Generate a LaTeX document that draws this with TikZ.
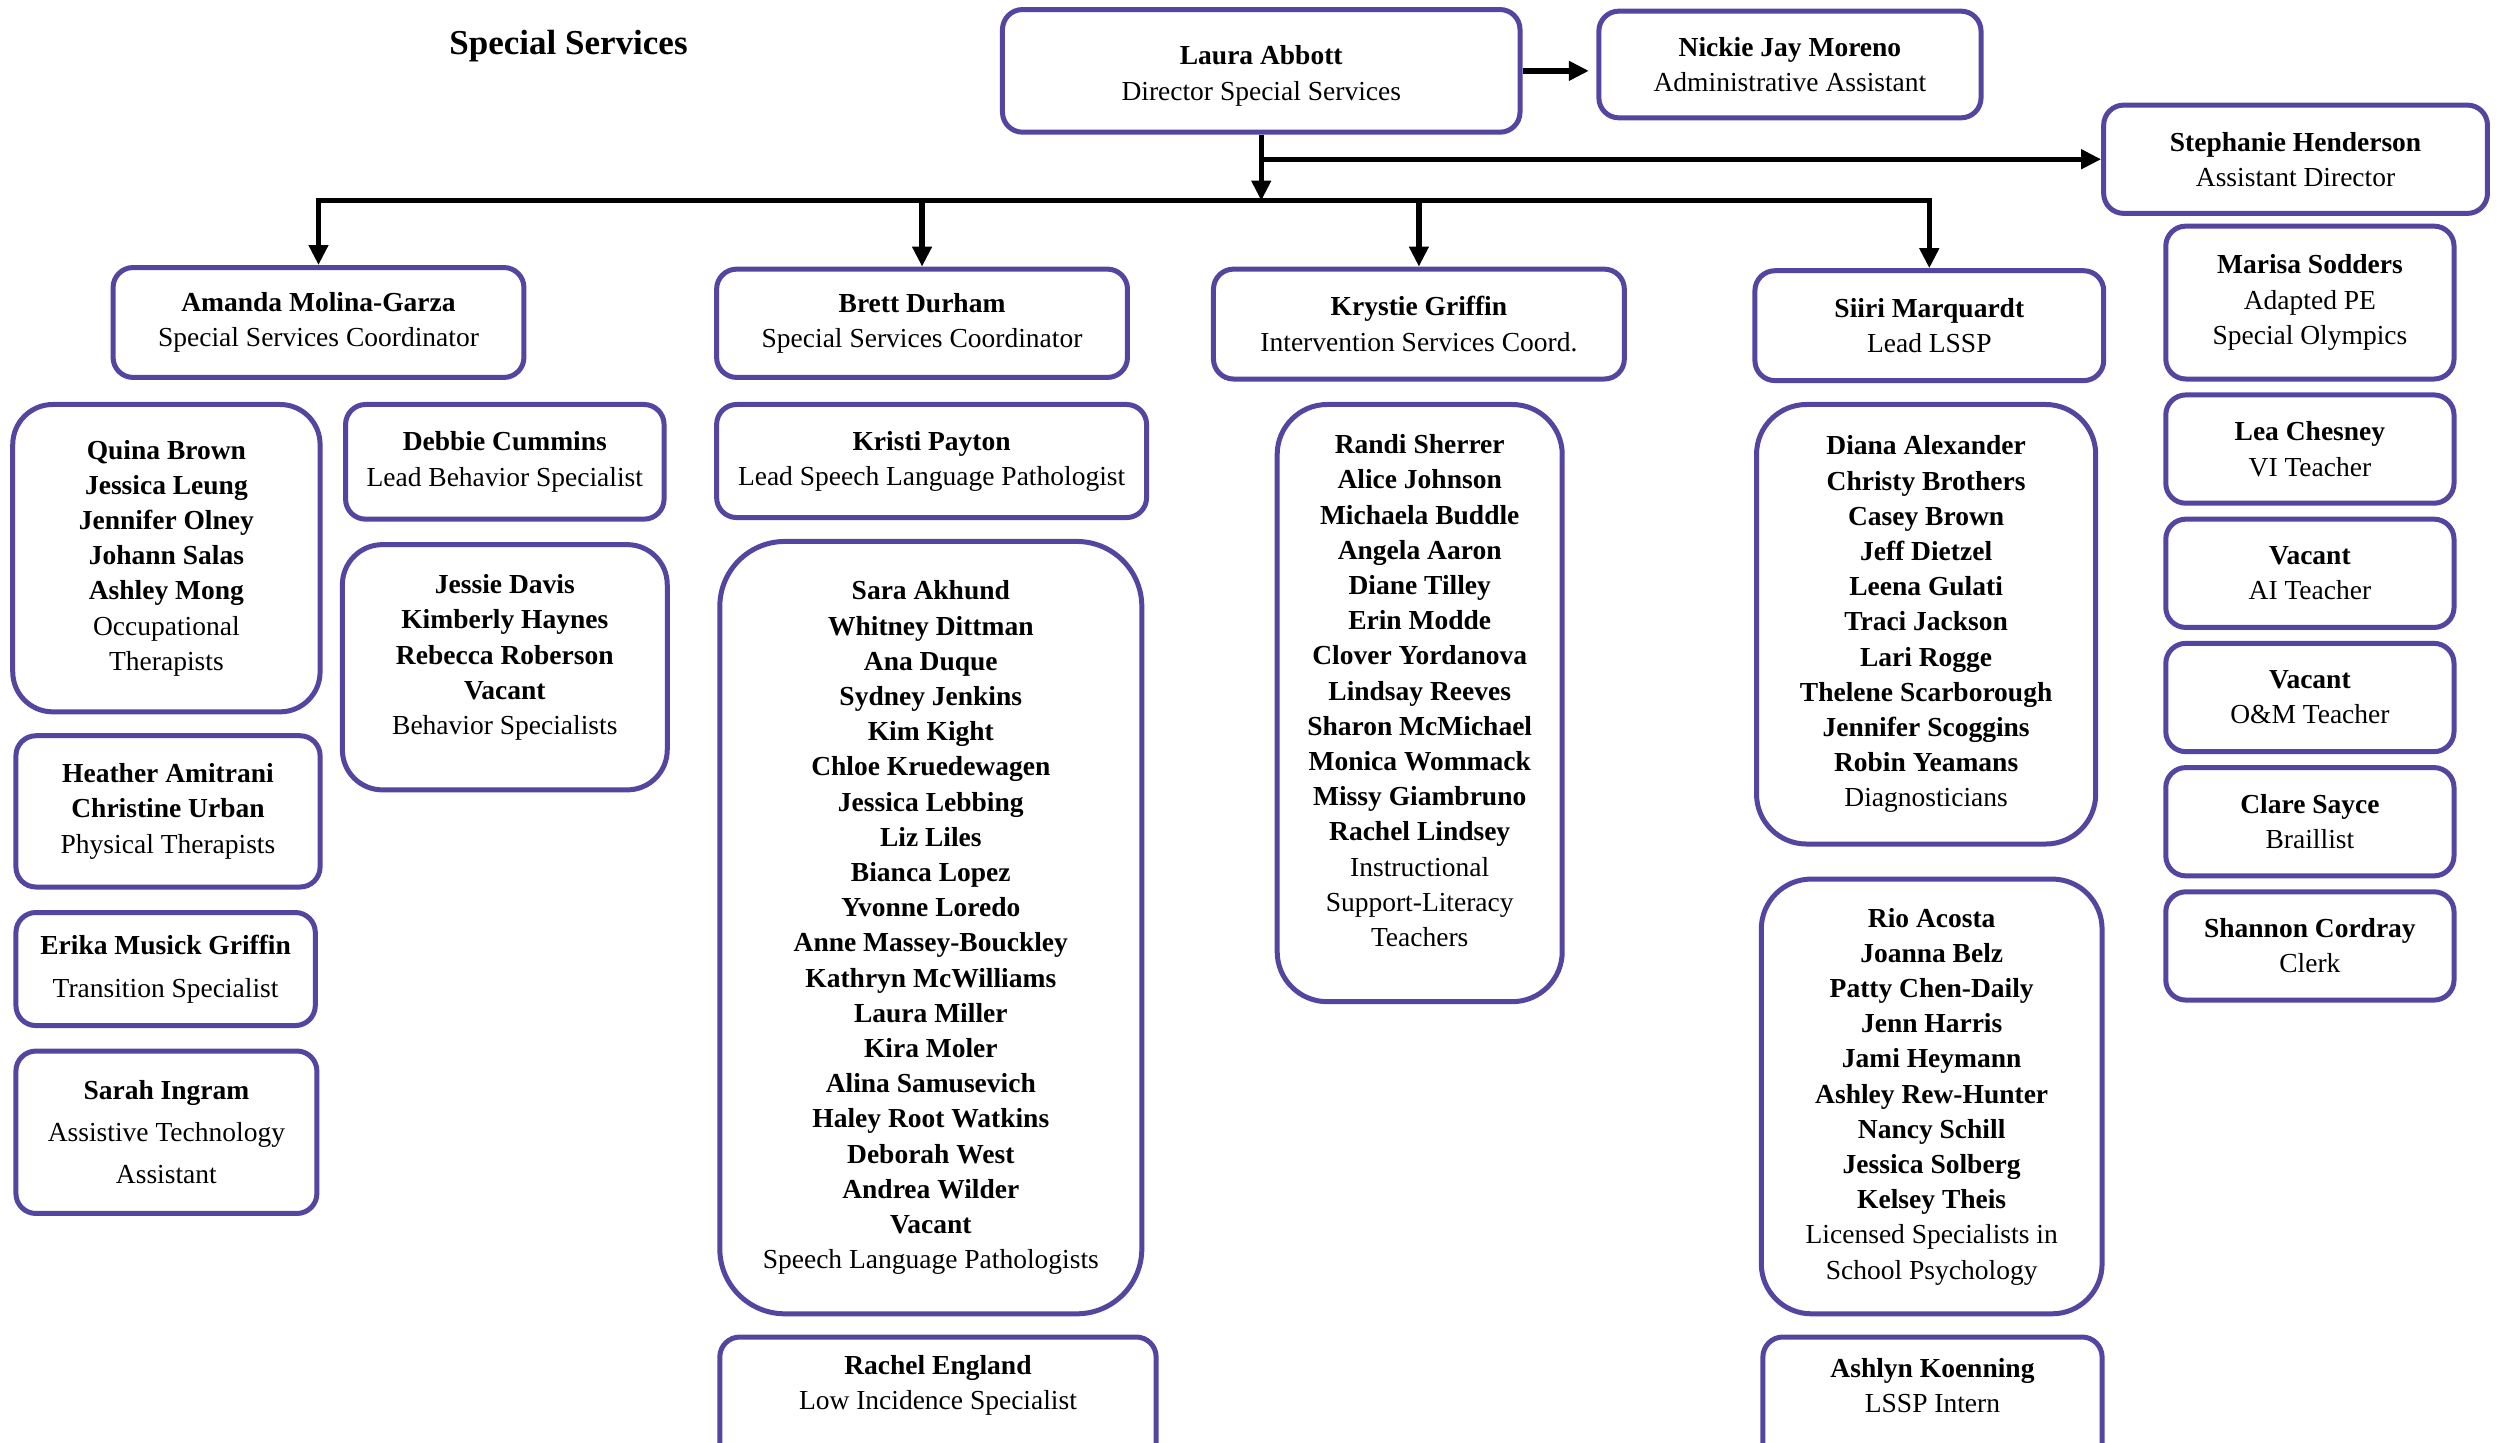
\documentclass[tikz,border=0pt]{standalone}
\usepackage{fontspec}
\setmainfont{Liberation Serif}
\usetikzlibrary{arrows.meta}
\definecolor{boxc}{RGB}{82,70,160}
\tikzset{
 box/.style={draw=boxc, line width=2pt, rounded corners=8pt, fill=white, align=center, inner sep=0pt, font=\fontsize{11}{14.08}\selectfont},
 sz/.style 2 args={minimum width=#1*0.637pt, minimum height=#2*0.637pt},
 txt/.style={align=center, inner sep=0pt, font=\fontsize{11}{14.08}\selectfont},
 conn/.style={line width=2.2pt, black},
 arr/.style={conn, -{Triangle[length=8pt,width=7.5pt]}},
}
\begin{document}
\begin{tikzpicture}[x=0.637pt,y=-0.637pt]
\useasboundingbox (0,0) rectangle (1568,906);
\clip (0,0) rectangle (1568,906);
\node[font=\fontsize{14}{17}\selectfont\bfseries] (title) at (357,29) {Special Services};
% top
\node[box, sz={325}{77}] (laura) at (792,44.5) {\mbox{}\\[-2.4pt]\textbf{Laura Abbott}\\Director Special Services};
\node[box, sz={240}{67}] (nickie) at (1124,40.5) {\textbf{Nickie Jay Moreno}\\Administrative Assistant};
\node[box, sz={241}{68}] (steph) at (1441.5,100) {\textbf{Stephanie Henderson}\\Assistant Director};
% coordinators
\node[box, sz={258}{69}] (amanda) at (200,202.5) {\textbf{Amanda Molina-Garza}\\Special Services Coordinator};
\node[box, sz={258}{68}] (brett) at (579,203) {\textbf{Brett Durham}\\Special Services Coordinator};
\node[box, sz={258}{69}] (krystie) at (891,203.5) {\textbf{Krystie Griffin}\\Intervention Services Coord.};
\node[box, sz={219}{69}] (siiri) at (1211.5,204.5) {\textbf{Siiri Marquardt}\\Lead LSSP};
% right column
\node[box, sz={181}{96}] (marisa) at (1450.5,190) {\textbf{Marisa Sodders}\\Adapted PE\\Special Olympics};
\node[box, sz={181}{68}] (lea) at (1450.5,282) {\textbf{Lea Chesney}\\VI Teacher};
\node[box, sz={181}{68}] (vacai) at (1450.5,360) {\textbf{Vacant}\\AI Teacher};
\node[box, sz={181}{68}] (vacom) at (1450.5,438) {\textbf{Vacant}\\O\&M Teacher};
\node[box, sz={181}{68}] (clare) at (1450.5,516) {\textbf{Clare Sayce}\\Braillist};
\node[box, sz={181}{68}] (shannon) at (1450.5,594) {\textbf{Shannon Cordray}\\Clerk};
% column 1
\node[box, sz={193}{193}, rounded corners=16pt] (ot) at (104.5,350.5) {\textbf{Quina Brown}\\\textbf{Jessica Leung}\\\textbf{Jennifer Olney}\\\textbf{Johann Salas}\\\textbf{Ashley Mong}\\Occupational\\Therapists};
\node[box, sz={191}{95}] (heather) at (105.5,509.5) {\textbf{Heather Amitrani}\\\textbf{Christine Urban}\\Physical Therapists};
\node[box, sz={188}{71}, font=\fontsize{11}{17.2}\selectfont] (erika) at (104,608.5) {\textbf{Erika Musick Griffin}\\Transition Specialist};
\node[box, sz={189}{102}, font=\fontsize{11}{16.9}\selectfont] (sarah) at (104.5,711) {\textbf{Sarah Ingram}\\Assistive Technology\\Assistant};
% column 2
\node[box, sz={200}{72}] (debbie) at (317,290) {\textbf{Debbie Cummins}\\Lead Behavior Specialist};
\node[box, sz={204}{154}, rounded corners=16pt] (jessie) at (317,419) {\textbf{Jessie Davis}\\\textbf{Kimberly Haynes}\\\textbf{Rebecca Roberson}\\\textbf{Vacant}\\Behavior Specialists\\[-4pt]\mbox{}};
% column 3
\node[box, sz={270}{71}] (kristi) at (585,289.5) {\textbf{Kristi Payton}\\Lead Speech Language Pathologist};
\node[box, sz={265}{485}, rounded corners=26pt] (slp) at (584.5,582.5) {\textbf{Sara Akhund}\\\textbf{Whitney Dittman}\\\textbf{Ana Duque}\\\textbf{Sydney Jenkins}\\\textbf{Kim Kight}\\\textbf{Chloe Kruedewagen}\\\textbf{Jessica Lebbing}\\\textbf{Liz Liles}\\\textbf{Bianca Lopez}\\\textbf{Yvonne Loredo}\\\textbf{Anne Massey-Bouckley}\\\textbf{Kathryn McWilliams}\\\textbf{Laura Miller}\\\textbf{Kira Moler}\\\textbf{Alina Samusevich}\\\textbf{Haley Root Watkins}\\\textbf{Deborah West}\\\textbf{Andrea Wilder}\\\textbf{Vacant}\\Speech Language Pathologists};
\node[box, sz={274}{80}, anchor=north] (rachel) at (589,838) {};
\node[txt] (rachelt) at (589,870) {\textbf{Rachel England}\\Low Incidence Specialist};
% column 4
\node[box, sz={179}{375}, rounded corners=20pt] (krlist) at (891.5,441.5) {\textbf{Randi Sherrer}\\\textbf{Alice Johnson}\\\textbf{Michaela Buddle}\\\textbf{Angela Aaron}\\\textbf{Diane Tilley}\\\textbf{Erin Modde}\\\textbf{Clover Yordanova}\\\textbf{Lindsay Reeves}\\\textbf{Sharon McMichael}\\\textbf{Monica Wommack}\\\textbf{Missy Giambruno}\\\textbf{Rachel Lindsey}\\Instructional\\Support-Literacy\\Teachers\\[-4pt]\mbox{}};
% column 5
\node[box, sz={213}{276}, rounded corners=20pt] (diag) at (1209.5,392) {\textbf{Diana Alexander}\\\textbf{Christy Brothers}\\\textbf{Casey Brown}\\\textbf{Jeff Dietzel}\\\textbf{Leena Gulati}\\\textbf{Traci Jackson}\\\textbf{Lari Rogge}\\\textbf{Thelene Scarborough}\\\textbf{Jennifer Scoggins}\\\textbf{Robin Yeamans}\\Diagnosticians};
\node[box, sz={214}{273}, rounded corners=20pt] (lssp) at (1213,688.5) {\textbf{Rio Acosta}\\\textbf{Joanna Belz}\\\textbf{Patty Chen-Daily}\\\textbf{Jenn Harris}\\\textbf{Jami Heymann}\\\textbf{Ashley Rew-Hunter}\\\textbf{Nancy Schill}\\\textbf{Jessica Solberg}\\\textbf{Kelsey Theis}\\Licensed Specialists in\\School Psychology};
\node[box, sz={213}{80}, anchor=north] (ashlyn) at (1213.5,838) {};
\node[txt] (ashlynt) at (1213.5,870) {\textbf{Ashlyn Koenning}\\LSSP Intern};
% connectors
\coordinate (bar) at (laura.south |- 0,126);
\draw[conn, line cap=rect] (amanda.north |- bar) -- (siiri.north |- bar);
\draw[arr] (laura.south) -- (bar);
\draw[arr] (laura.south |- steph.west) -- (steph.west);
\draw[arr, shorten >=3pt] (laura.east) -- (laura.east -| nickie.west);
\draw[arr] (amanda.north |- bar) -- (amanda.north);
\draw[arr] (brett.north |- bar) -- (brett.north);
\draw[arr] (krystie.north |- bar) -- (krystie.north);
\draw[arr] (siiri.north |- bar) -- (siiri.north);
\end{tikzpicture}
\end{document}
